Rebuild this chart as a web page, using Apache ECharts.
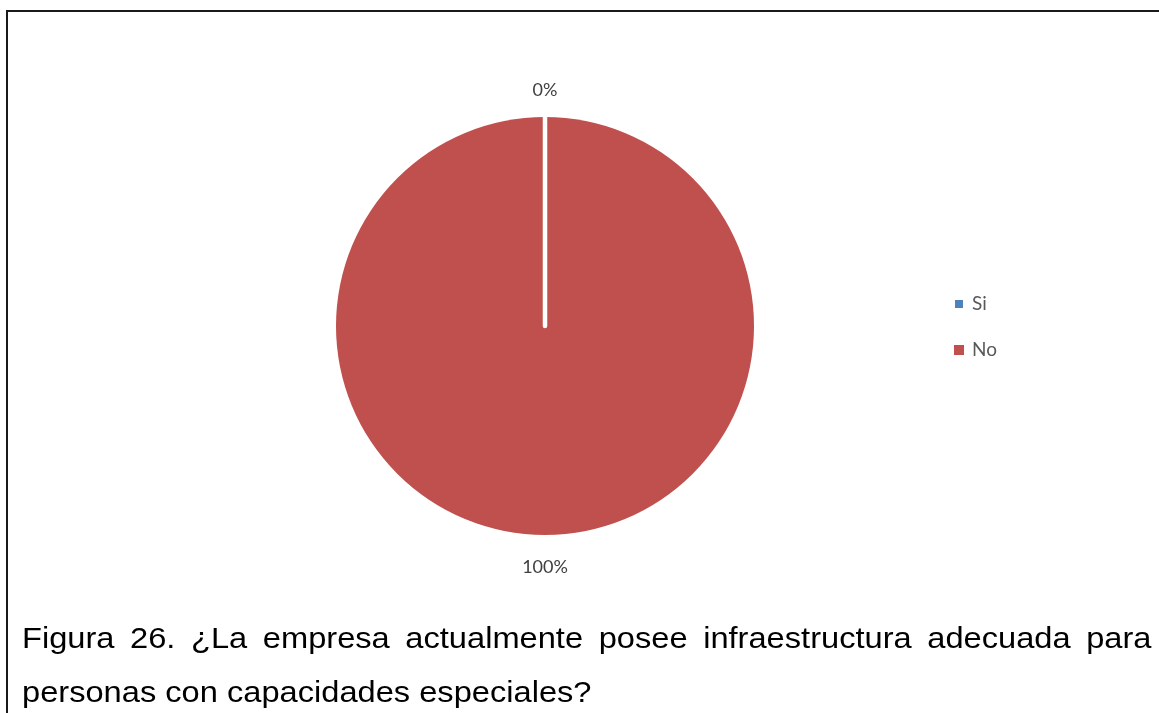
<!DOCTYPE html>
<html>
<head>
<meta charset="utf-8">
<script src="https://cdn.jsdelivr.net/npm/echarts@6/dist/echarts.min.js"></script>
<style>
  html, body { margin: 0; padding: 0; background: #fff; }
  #wrap { position: relative; width: 1159px; height: 713px; overflow: hidden; }
  #frame {
    position: absolute; left: 6px; top: 10px; width: 1200px; height: 800px;
    border: 2px solid #1a1a1a; box-sizing: border-box;
  }
  #chart { position: absolute; left: 0; top: 0; width: 1159px; height: 713px; }
  #caption {
    position: absolute; left: 22px; top: 611px; width: 1004px;
    font-family: "Liberation Sans", Arial, sans-serif; font-size: 29px;
    line-height: 54px; color: #000;
    transform: scaleX(1.125); transform-origin: 0 0;
  }
  #caption .l1 { text-align: justify; text-align-last: justify; white-space: nowrap; }
</style>
</head>
<body>
<div id="wrap">
  <div id="frame"></div>
  <div id="chart"></div>
  <div id="caption">
    <div class="l1">Figura 26. ¿La empresa actualmente posee infraestructura adecuada para</div>
    <div>personas con capacidades especiales?</div>
  </div>
</div>
<script>
// legend order as in the original
var legendNames = ['Si', 'No']
// drawing order: No first so the zero-width Si edge stays on top
var categories = ['No', 'Si']
var values = [100, 0]
var colors = { Si: '#4F81BD', No: '#C0504D' }
var labelGap = { Si: 27, No: 32 }

var chart = echarts.init(document.getElementById('chart'))

var data = categories.map(function (name, i) {
  var item = {
    name: name,
    value: values[i],
    itemStyle: { color: colors[name] },
    labelLine: { length: labelGap[name] }
  }
  if (name === 'Si') {
    item.itemStyle.borderColor = '#ffffff'
    item.itemStyle.borderWidth = 4.5
    item.itemStyle.borderCap = 'round'
  }
  return item
})

chart.setOption({
  backgroundColor: 'transparent',
  animation: false,
  legend: {
    data: legendNames,
    orient: 'vertical',
    left: 953,
    top: 294,
    padding: 0,
    icon: 'rect',
    itemWidth: 10,
    itemHeight: 10,
    itemGap: 26,
    selectedMode: false,
    textStyle: {
      fontFamily: 'Lato, "Open Sans", sans-serif',
      fontSize: 19,
      lineHeight: 20,
      color: '#595959',
      padding: [0, 0, 0, 3]
    }
  },
  series: [{
    name: 'Respuesta',
    type: 'pie',
    center: [545, 326],
    radius: 209,
    startAngle: 90,
    clockwise: true,
    avoidLabelOverlap: false,
    label: {
      show: true,
      position: 'outside',
      formatter: '{d}%',
      fontFamily: 'Lato, "Open Sans", sans-serif',
      fontSize: 18,
      color: '#404040',
      distanceToLabelLine: 0
    },
    labelLine: {
      show: false,
      length: 30,
      length2: 0
    },
    // center each label horizontally on its slice
    labelLayout: function (params) {
      var cx = params.rect.x + params.rect.width / 2
      var lx = params.labelRect.x + params.labelRect.width / 2
      return { dx: cx - lx }
    },
    emphasis: { disabled: true },
    data: data
  }]
})
</script>
</body>
</html>
